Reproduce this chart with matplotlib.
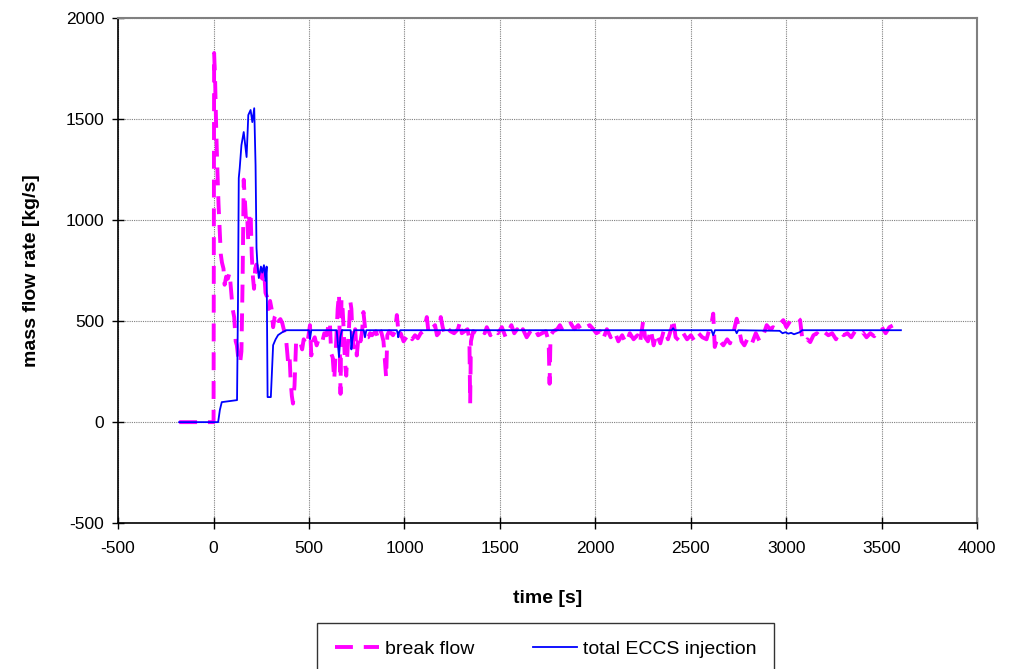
import matplotlib
matplotlib.use("Agg")
import matplotlib.pyplot as plt

plt.rcParams["font.family"] = ["Liberation Sans", "DejaVu Sans"]
plt.rcParams["axes.unicode_minus"] = False

# ---- break flow (time [s], mass flow [kg/s]) ----
break_time = [
    -180, 0, 3, 8, 14, 20, 26, 32, 38, 44,
    52, 58, 66, 75, 84, 92, 100, 108, 116, 122,
    128, 134, 140, 146, 152, 158, 164, 170, 176, 182,
    188, 194, 200, 206, 212, 218, 225, 232, 240, 248,
    256, 264, 272, 280, 288, 296, 304, 312, 320, 330,
    340, 350, 360, 370, 380, 390, 398, 404, 410, 416,
    424, 432, 440, 448, 456, 464, 472, 480, 488, 496,
    505, 512, 520, 530, 540, 550, 560, 570, 580, 592,
    600, 609, 616, 624, 632, 640, 650, 657, 661, 665,
    670, 676, 682, 688, 695, 702, 710, 716, 722, 728,
    735, 742, 750, 760, 770, 778, 785, 792, 800, 810,
    820, 830, 840, 850, 860, 870, 880, 890, 898, 904,
    910, 920, 930, 940, 950, 960, 966, 972, 980, 995,
    1010, 1025, 1040, 1055, 1070, 1085, 1100, 1117, 1125, 1135,
    1150, 1160, 1170, 1180, 1190, 1200, 1210, 1222, 1240, 1260,
    1280, 1292, 1300, 1315, 1330, 1340, 1344, 1348, 1360, 1380,
    1400, 1420, 1431, 1450, 1470, 1490, 1510, 1530, 1545, 1560,
    1575, 1590, 1606, 1620, 1640, 1660, 1680, 1700, 1720, 1740,
    1755, 1760, 1765, 1780, 1800, 1814, 1830, 1850, 1870, 1890,
    1910, 1930, 1950, 1970, 1989, 2005, 2024, 2040, 2060, 2080,
    2100, 2120, 2140, 2160, 2180, 2200, 2220, 2233, 2250, 2260,
    2275, 2290, 2305, 2320, 2340, 2360, 2380, 2400, 2407, 2420,
    2442, 2460, 2480, 2500, 2520, 2540, 2560, 2582, 2600, 2610,
    2617, 2625, 2640, 2652, 2670, 2690, 2705, 2722, 2740, 2750,
    2765, 2780, 2800, 2820, 2840, 2860, 2879, 2897, 2915, 2930,
    2950, 2970, 2984, 3000, 3020, 3036, 3055, 3072, 3085, 3098,
    3110, 3125, 3142, 3160, 3180, 3200, 3220, 3240, 3260, 3280,
    3300, 3320, 3340, 3360, 3380, 3400, 3420, 3440, 3460, 3480,
    3500, 3520, 3540, 3561, 3580, 3597,
]
break_flow = [
    0, 0, 1827, 1700, 1450, 1250, 1080, 950, 830, 790,
    760, 680, 720, 710, 740, 650, 560, 520, 400, 380,
    330, 290, 300, 350, 690, 1200, 1100, 1000, 1020, 890,
    1020, 1040, 830, 720, 660, 760, 780, 730, 760, 720,
    710, 760, 640, 620, 560, 600, 560, 470, 520, 540,
    500, 510, 490, 450, 410, 300, 330, 200, 130, 92,
    180, 390, 400, 380, 390, 360, 410, 395, 380, 420,
    480, 330, 400, 420, 380, 410, 390, 400, 440, 430,
    470, 500, 340, 320, 210, 350, 560, 636, 380, 140,
    610, 560, 450, 300, 230, 360, 480, 600, 560, 420,
    370, 460, 330, 430, 400, 450, 545, 480, 420, 420,
    440, 430, 440, 450, 420, 460, 440, 400, 300, 220,
    430, 450, 440, 430, 450, 530, 470, 420, 440, 400,
    420, 440, 410, 430, 415, 440, 450, 520, 450, 440,
    470, 480, 430, 440, 520, 470, 440, 470, 450, 440,
    460, 500, 440, 450, 460, 410, 92, 400, 450, 440,
    460, 440, 470, 430, 460, 440, 470, 420, 450, 480,
    440, 460, 430, 460, 420, 450, 470, 430, 440, 450,
    400, 190, 430, 450, 460, 480, 450, 470, 490, 460,
    480, 450, 470, 480, 460, 440, 450, 410, 460, 420,
    450, 400, 430, 390, 440, 410, 430, 390, 500, 420,
    400, 460, 380, 440, 390, 460, 410, 470, 512, 420,
    400, 440, 410, 430, 400, 440, 420, 410, 470, 500,
    537, 372, 420, 400, 380, 410, 390, 440, 512, 470,
    400, 380, 420, 390, 440, 400, 430, 480, 460, 470,
    460, 490, 505, 470, 500, 512, 520, 505, 400, 396,
    410, 396, 430, 440, 420, 445, 430, 440, 410, 450,
    430, 440, 420, 450, 430, 445, 420, 440, 425, 450,
    470, 440, 470, 480, 460, 450,
]

# ---- total ECCS injection ----
eccs_time = [
    -180, 24, 33, 43, 123, 128, 132, 137, 146, 158,
    173, 182, 194, 203, 213, 220, 225, 230, 237, 248,
    255, 264, 272, 278, 283, 300, 312, 325, 338, 360,
    381, 500, 505, 512, 645, 650, 657, 664, 672, 718,
    722, 726, 731, 738, 787, 793, 800, 960, 964, 967,
    971, 978, 2400, 2407, 2414, 2608, 2617, 2626, 2733, 2740,
    2748, 2965, 2980, 2995, 3010, 3025, 3040, 3055, 3070, 3083,
    3600,
]
eccs_flow = [
    0, 0, 60, 99, 109, 600, 1208, 1257, 1371, 1436,
    1312, 1520, 1545, 1485, 1554, 1272, 861, 777, 713, 770,
    740, 777, 700, 770, 124, 124, 381, 410, 431, 445,
    455, 455, 410, 455, 455, 400, 322, 420, 455, 455,
    360, 400, 430, 455, 455, 420, 455, 455, 440, 420,
    445, 455, 455, 465, 455, 455, 430, 455, 455, 440,
    455, 452, 440, 445, 438, 442, 435, 440, 445, 455,
    455,
]

fig = plt.figure(figsize=(10.18, 6.69), dpi=100)
ax = fig.add_axes([0.116, 0.218, 0.844, 0.755])

ax.plot(break_time, break_flow, color="#FF00FF", lw=2.8,
        dashes=(4.6, 2.8), label="break flow", zorder=3)
ax.plot(eccs_time, eccs_flow, color="#0000FF", lw=1.3,
        label="total ECCS injection", zorder=4)

ax.set_xlim(-500, 4000)
ax.set_ylim(-500, 2000)
ax.set_xticks(range(-500, 4001, 500))
ax.set_yticks(range(-500, 2001, 500))
ax.grid(True, color="#808080", linestyle=(0, (1, 1)), lw=0.8)
ax.tick_params(direction="inout", length=8, width=1, labelsize=12.5)
ax.tick_params(axis="x", pad=9)
ax.tick_params(axis="y", pad=6)

for side in ("left", "bottom"):
    ax.spines[side].set_color("black")
    ax.spines[side].set_linewidth(1.2)
for side in ("top", "right"):
    ax.spines[side].set_color("#808080")
    ax.spines[side].set_linewidth(1.5)

ax.set_xlabel("time [s]", fontsize=14, fontweight="bold", labelpad=24)
ax.set_ylabel("mass flow rate [kg/s]", fontsize=14, fontweight="bold", labelpad=18)

leg = fig.legend(loc="upper left", bbox_to_anchor=(317 / 1018, 1 - 623 / 669),
                 ncol=2, fontsize=14, frameon=True, fancybox=False,
                 handlelength=2.3, columnspacing=3.0, borderpad=0.9,
                 handletextpad=0.3, borderaxespad=0)
leg.get_frame().set_edgecolor("black")
leg.get_frame().set_linewidth(1.0)

fig.savefig("out.png", dpi=100)
